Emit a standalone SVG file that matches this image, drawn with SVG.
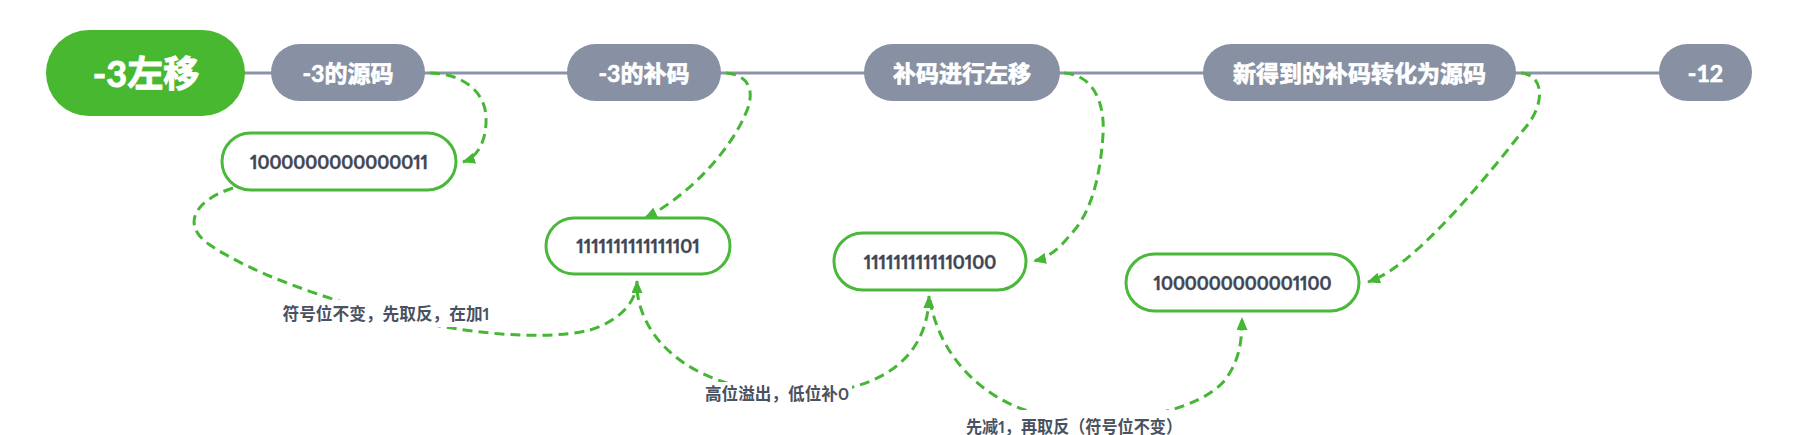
<svg xmlns="http://www.w3.org/2000/svg" width="1803" height="435" viewBox="0 0 1803 435">
<defs>
<marker id="arr" markerUnits="userSpaceOnUse" markerWidth="13" markerHeight="11" viewBox="0 0 13 11" refX="12" refY="5.5" orient="auto">
<path d="M0,0 L13,5.5 L0,11 Z" fill="#45b735"/>
</marker>
<style>
.topic{fill:#8891a4}
.topic-t{fill:#ffffff;stroke:#ffffff;stroke-width:0.7px;font-family:Lato,"Noto Sans CJK SC",sans-serif;font-weight:bold;font-size:23px;text-anchor:middle;dominant-baseline:central}
.sub{fill:#ffffff;stroke:#4ab83a;stroke-width:3}
.sub-t{fill:#3f4654;stroke:#3f4654;stroke-width:0.4px;font-family:Lato,"Noto Sans CJK SC",sans-serif;font-weight:bold;font-size:18px;text-anchor:middle;dominant-baseline:central;font-variant-numeric:proportional-nums;font-feature-settings:"pnum" 1}
.rel{fill:none;stroke:#45b735;stroke-width:3;stroke-dasharray:10 6;marker-end:url(#arr)}
.lbl-bg{fill:#ffffff}
.lbl{fill:#4a5161;font-family:Lato,"Noto Sans CJK SC",sans-serif;font-weight:bold;font-size:17.5px;text-anchor:middle;dominant-baseline:central;font-variant-numeric:proportional-nums;font-feature-settings:"pnum" 1}
</style>
</defs>
<rect width="1803" height="435" fill="#ffffff"/>
<g id="spine">
<line x1="240" y1="73" x2="1662" y2="73" stroke="#8b93a6" stroke-width="3"/>
</g>
<g id="connectors">
<path class="rel" d="M430,73 C460,73 485,90 486,117 C487,140 478,157 463,162"/>
<path class="rel" d="M726,73 C752,75 755,95 745,115 C730,150 690,195 645,218"/>
<path class="rel" d="M1064,73 C1095,75 1105,105 1103,135 C1100,180 1090,215 1070,235 C1060,248 1048,258 1034,261"/>
<path class="rel" d="M1521,73 C1545,75 1545,105 1525,128 C1500,160 1460,210 1420,247 C1400,265 1385,276 1368,282"/>
<path class="rel" d="M233,188 C195,200 180,225 210,245 C250,272 320,298 400,318 C460,332 540,342 590,330 C622,320 637,300 637,281"/>
<path class="rel" d="M637,290 C642,340 690,385 775,392 C860,400 928,370 929,296"/>
<path class="rel" d="M930,300 C940,360 990,410 1060,418 C1130,425 1200,410 1225,380 C1240,360 1242,340 1242,318"/>
</g>
<g id="labels">
<rect class="lbl-bg" x="279" y="300" width="214" height="27"/>
<text class="lbl" x="386" y="313" textLength="207" lengthAdjust="spacingAndGlyphs">符号位不变，先取反，在加1</text>
<rect class="lbl-bg" x="702" y="382" width="150" height="23"/>
<text class="lbl" x="777" y="393" textLength="144" lengthAdjust="spacingAndGlyphs">高位溢出，低位补0</text>
<rect class="lbl-bg" x="962" y="410" width="224" height="25"/>
<text class="lbl" x="1074" y="426" textLength="216" lengthAdjust="spacingAndGlyphs">先减1，再取反（符号位不变）</text>
</g>
<g id="root">
<rect x="46" y="30" width="199" height="86" rx="43" fill="#47b82f"/>
<text x="146" y="73" fill="#ffffff" stroke="#ffffff" stroke-width="1" font-family="Lato, 'Noto Sans CJK SC', sans-serif" font-weight="bold" font-size="36" text-anchor="middle" dominant-baseline="central">-3左移</text>
</g>
<g id="t1"><rect class="topic" x="271" y="44" width="154" height="57" rx="28.5"/><text class="topic-t" x="348" y="73">-3的源码</text></g>
<g id="t2"><rect class="topic" x="567" y="44" width="154" height="57" rx="28.5"/><text class="topic-t" x="644" y="73">-3的补码</text></g>
<g id="t3"><rect class="topic" x="864" y="44" width="196" height="57" rx="28.5"/><text class="topic-t" x="962" y="73">补码进行左移</text></g>
<g id="t4"><rect class="topic" x="1203" y="44" width="313" height="57" rx="28.5"/><text class="topic-t" x="1359.5" y="73">新得到的补码转化为源码</text></g>
<g id="t5"><rect class="topic" x="1659" y="44" width="93" height="57" rx="28.5"/><text class="topic-t" x="1705.5" y="73">-12</text></g>
<g id="n1"><rect class="sub" x="222" y="133" width="234" height="57" rx="28.5"/><text class="sub-t" x="339" y="161.5">1000000000000011</text></g>
<g id="n2"><rect class="sub" x="546" y="218" width="184" height="56" rx="28"/><text class="sub-t" x="638" y="246">1111111111111101</text></g>
<g id="n3"><rect class="sub" x="834" y="233" width="192" height="57" rx="28.5"/><text class="sub-t" x="930" y="261.5">1111111111110100</text></g>
<g id="n4"><rect class="sub" x="1126" y="254" width="233" height="57" rx="28.5"/><text class="sub-t" x="1242.5" y="282.5">1000000000001100</text></g>
</svg>
